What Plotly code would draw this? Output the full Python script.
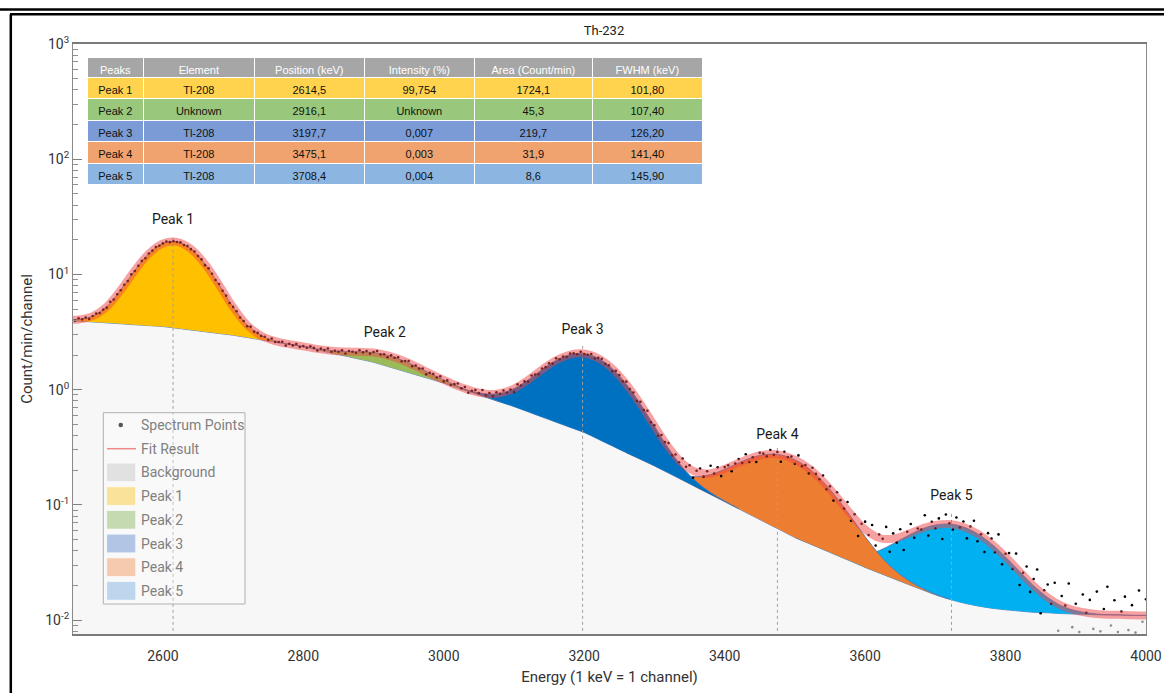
import plotly.graph_objects as go

# ---------------- data ----------------
energy = list(range(2460, 4001, 20))  # keV, model grid
background = [4.018, 3.945, 3.873, 3.802, 3.733, 3.664, 3.597, 3.532, 3.412, 3.296,
              3.184, 3.076, 2.972, 2.838, 2.710, 2.588, 2.472, 2.360, 2.218, 2.084,
              1.959, 1.841, 1.730, 1.592, 1.466, 1.349, 1.242, 1.143, 1.040, 0.946,
              0.861, 0.783, 0.713, 0.643, 0.579, 0.522, 0.471, 0.425, 0.372, 0.325,
              0.284, 0.249, 0.218, 0.189, 0.164, 0.142, 0.123, 0.1067, 0.0925, 0.0802,
              0.0695, 0.0603, 0.0522, 0.0463, 0.0411, 0.0365, 0.0324, 0.0287, 0.0257, 0.0230,
              0.0206, 0.0185, 0.0166, 0.0152, 0.0141, 0.0133, 0.0127, 0.0123, 0.0120, 0.0117,
              0.0116, 0.0114, 0.0113, 0.0112, 0.0111, 0.0111, 0.0110, 0.0110]

peak1_energy = list(range(2460, 2801, 20))
peak1_net = [0.0266, 0.125, 0.474, 1.453, 3.594, 7.17, 11.56, 15.03, 15.77, 13.36,
             9.13, 5.04, 2.24, 0.806, 0.234, 0.0547, 0.0103, 0.0016]
peak2_energy = list(range(2780, 3081, 20))
peak2_net = [0.0046, 0.0155, 0.0430, 0.0984, 0.1858, 0.2896, 0.3721, 0.3946, 0.3452, 0.2491,
             0.1484, 0.0729, 0.0295, 0.0099, 0.0027, 0.0006]
peak3_energy = list(range(3020, 3421, 20))
peak3_net = [0.0067, 0.0216, 0.0603, 0.1468, 0.3106, 0.572, 0.9165, 1.277, 1.549, 1.6345,
             1.500, 1.198, 0.8326, 0.5034, 0.2647, 0.1212, 0.0482, 0.0167, 0.0050, 0.0013, 0.0003]
peak4_energy = list(range(3260, 3721, 20))
peak4_net = [0.00035, 0.00108, 0.00302, 0.00755, 0.01687, 0.03377, 0.0605, 0.0970, 0.1392, 0.1787,
             0.2054, 0.2113, 0.1945, 0.1603, 0.1182, 0.0780, 0.0461, 0.0244, 0.0115, 0.0049,
             0.00185, 0.00063, 0.00019, 0.00005]
peak5_energy = list(range(3500, 4001, 20))
peak5_net = [0.0001, 0.00029, 0.00078, 0.0019, 0.00414, 0.00815, 0.01443, 0.02305, 0.03318, 0.04304,
             0.05031, 0.053, 0.05031, 0.04304, 0.03318, 0.02305, 0.01443, 0.00815, 0.00414, 0.0019,
             0.00078, 0.00029, 0.0001, 0.00003, 0.00001, 0.0]

spectrum_energy = list(range(2470, 4001, 5))
spectrum_counts = (
    [4.074, 3.973, 4.173, 4.079, 4.220, 4.114, 4.365, 4.577, 4.636, 4.950,
     5.151, 5.793, 6.073, 6.740, 7.305, 8.135, 8.788, 10.01, 10.73, 11.90,
     13.11, 13.83, 15.21, 16.09, 17.27, 17.77, 18.60, 19.33, 19.07, 19.41,
     19.16, 18.98, 18.04, 17.63, 16.59, 15.84, 14.47, 13.51, 12.05, 11.30,
     10.15, 8.955, 8.261, 7.217, 6.551, 5.660, 5.229, 4.790, 4.235, 3.941,
     3.557, 3.525, 3.190, 3.110, 2.930, 2.880, 2.696, 2.786, 2.596, 2.596,
     2.610, 2.413, 2.507, 2.424, 2.494, 2.350, 2.390]
    + [2.313, 2.383, 2.306, 2.188, 2.274, 2.211, 2.281, 2.134, 2.181, 2.136,
       2.203, 2.057, 2.169, 2.137, 2.093, 2.200, 2.110, 2.167, 2.056, 2.125,
       2.169, 2.019, 2.028, 1.915, 1.987, 1.895, 1.913, 1.764, 1.776, 1.773,
       1.596, 1.623, 1.524, 1.529, 1.359, 1.399, 1.370, 1.275, 1.306, 1.181]
    + [1.204, 1.099, 1.117, 1.131, 1.027, 1.055, 0.941, 0.978, 0.995, 0.933,
       0.993, 0.896, 0.935, 0.875, 0.950, 0.922, 0.985, 0.940, 1.003, 0.957,
       1.113, 1.089, 1.180, 1.175, 1.330, 1.353, 1.362, 1.527, 1.569, 1.699,
       1.683, 1.877, 1.839, 1.940, 1.922, 2.061, 2.068, 2.030, 2.130, 2.042]
    + [2.008, 2.038, 1.868, 1.889, 1.853, 1.679, 1.626, 1.445, 1.458, 1.340,
       1.182, 1.174, 1.012, 0.946, 0.799, 0.786, 0.667, 0.657, 0.522, 0.491,
       0.399, 0.405, 0.351, 0.344, 0.269, 0.274, 0.235, 0.253, 0.214, 0.221,
       0.172, 0.198, 0.207, 0.176, 0.196, 0.219, 0.187, 0.212, 0.178, 0.213]
    + [0.221, 0.196, 0.229, 0.250, 0.231, 0.275, 0.236, 0.259, 0.236, 0.284,
       0.279, 0.264, 0.300, 0.272, 0.288, 0.237, 0.289, 0.260, 0.263, 0.228,
       0.269, 0.217, 0.222, 0.188, 0.210, 0.186, 0.167, 0.180, 0.137, 0.145,
       0.109, 0.129, 0.110, 0.0929, 0.106, 0.0730, 0.0829, 0.0538, 0.0687, 0.0716]
    + [0.0548, 0.0669, 0.0444, 0.0554, 0.0508, 0.0645, 0.0393, 0.0566, 0.0471, 0.0615,
       0.0406, 0.0586, 0.0683, 0.0519, 0.0625, 0.0611, 0.0815, 0.0543, 0.0714, 0.0628,
       0.0764, 0.0507, 0.0825, 0.0693, 0.0612, 0.0777, 0.0638, 0.0718, 0.0513, 0.0649,
       0.0728, 0.0484, 0.0557, 0.0390, 0.0569, 0.0512, 0.0389, 0.0555, 0.0306, 0.0377]
    + [0.0382, 0.0278, 0.0378, 0.0202, 0.0258, 0.0292, 0.0176, 0.0228, 0.0275, 0.0115,
       0.0182, 0.0204, 0.0139, 0.0211, 0.0081, 0.0162, 0.0134, 0.0208, 0.0087, 0.0139,
       0.0079, 0.0167, 0.0116, 0.0150, 0.0084, 0.0177, 0.0080, 0.0125, 0.0195, 0.0090,
       0.0149, 0.0079, 0.0119, 0.0160, 0.0082, 0.0135, 0.0078, 0.0181, 0.0097, 0.0152]
)

peak_names = ["Peak 1", "Peak 2", "Peak 3", "Peak 4", "Peak 5"]
label_energy = [2614.5, 2916.1, 3197.7, 3475.1, 3723.0]
label_value = [29.2, 3.08, 3.24, 0.404, 0.1175]
marker_line_top = [21.5, None, 2.44, 0.319, 0.087]

table_header = ["Peaks", "Element", "Position (keV)", "Intensity (%)", "Area (Count/min)", "FWHM (keV)"]
table_element = ["Tl-208", "Unknown", "Tl-208", "Tl-208", "Tl-208"]
table_position = ["2614,5", "2916,1", "3197,7", "3475,1", "3708,4"]
table_intensity = ["99,754", "Unknown", "0,007", "0,003", "0,004"]
table_area = ["1724,1", "45,3", "219,7", "31,9", "8,6"]
table_fwhm = ["101,80", "107,40", "126,20", "141,40", "145,90"]

# ---------------- styling ----------------
peak_fill = ["#FFC000", "#9BBB59", "#0070C0", "#ED7D31", "#00B0F0"]
table_row_fill = ["#FFD34E", "#99C77C", "#7A9BD6", "#F0A36E", "#8DB5E2"]
legend_swatch = ["#E1E1E1", "#FAE29B", "#C6DAB2", "#B2C5E5", "#F5CAAE", "#BDD6ED"]
edge_col = "rgba(80,120,180,0.85)"
FONT = "Roboto"

W, H = 1164, 693
ML, MR, MT, MB = 73, 18, 44, 59
PW, PH = W - ML - MR, H - MT - MB


def px_x(px):  # window pixel -> paper
    return (px - ML) / PW


def px_y(py):
    return (H - MB - py) / PH


bg_at = dict(zip(energy, background))
peaks = [(peak1_energy, peak1_net), (peak2_energy, peak2_net), (peak3_energy, peak3_net),
         (peak4_energy, peak4_net), (peak5_energy, peak5_net)]

fit_result = list(background)
for pe, pv in peaks:
    for e, v in zip(pe, pv):
        fit_result[energy.index(e)] += v

fig = go.Figure()

# background area
fig.add_trace(go.Scatter(x=energy, y=[0.001] * len(energy), mode="lines",
                         line=dict(width=0), hoverinfo="skip", showlegend=False))
fig.add_trace(go.Scatter(x=energy, y=background, mode="lines", fill="tonexty",
                         fillcolor="#F7F7F7", line=dict(color=edge_col, width=1, shape="spline"),
                         name="Background", showlegend=False))

# peaks, drawn from peak 5 up to peak 1
for k in [4, 3, 2, 1, 0]:
    pe, pv = peaks[k]
    base = [bg_at[e] for e in pe]
    top = [bg_at[e] + v for e, v in zip(pe, pv)]
    fig.add_trace(go.Scatter(x=pe, y=base, mode="lines", line=dict(width=0, shape="spline"),
                             hoverinfo="skip", showlegend=False))
    fig.add_trace(go.Scatter(x=pe, y=top, mode="lines", fill="tonexty", fillcolor=peak_fill[k],
                             line=dict(color=edge_col, width=1, shape="spline"),
                             name=peak_names[k], showlegend=False))

# dotted peak markers
dx, dy = [], []
for e, t in zip(label_energy, marker_line_top):
    if t is None:
        continue
    dx += [e, e, None]
    dy += [0.005, t, None]
fig.add_trace(go.Scatter(x=dx, y=dy, mode="lines", line=dict(color="#A0A0A0", width=1, dash="dot"),
                         hoverinfo="skip", showlegend=False))

# spectrum points
pt_colors = ["#8E8E8E" if v < 0.0105 else "#000000" for v in spectrum_counts]
fig.add_trace(go.Scatter(x=spectrum_energy, y=spectrum_counts, mode="markers",
                         marker=dict(size=2.6, color=pt_colors), name="Spectrum Points",
                         showlegend=False))

# fit result
fig.add_trace(go.Scatter(x=energy, y=fit_result, mode="lines",
                         line=dict(color="rgba(240,70,70,0.5)", width=8, shape="spline"),
                         name="Fit Result", showlegend=False))

# peak labels
fig.add_trace(go.Scatter(x=label_energy, y=label_value, mode="text", text=peak_names,
                         textposition="middle center",
                         textfont=dict(family=FONT, size=14, color="#1A1A1A"),
                         hoverinfo="skip", showlegend=False))

# table
fig.add_trace(go.Table(
    domain=dict(x=[px_x(87.3), px_x(703.3)], y=[px_y(192), px_y(57.3)]),
    columnwidth=[56, 111, 110, 110, 118, 110],
    header=dict(values=table_header, fill_color="#A6A6A6", align="center", height=20,
                font=dict(family="Arial", size=11, color="white"),
                line=dict(color="white", width=1)),
    cells=dict(values=[peak_names, table_element, table_position, table_intensity, table_area, table_fwhm],
               fill_color=[table_row_fill] * 6, align="center", height=21.5,
               font=dict(family="Arial", size=11, color="#111111"),
               line=dict(color="white", width=1)),
))

# ---------------- manual legend ----------------
shapes = []
annotations = []
shapes.append(dict(type="rect", xref="paper", yref="paper", x0=px_x(103.3), x1=px_x(245),
                   y0=px_y(604), y1=px_y(412.7), line=dict(color="#B0B0B0", width=1),
                   fillcolor="rgba(252,252,252,0.35)", layer="above"))
legend_labels = ["Spectrum Points", "Fit Result", "Background"] + peak_names
for i, lab in enumerate(legend_labels):
    yc = 425 + 23.7 * i
    if i == 0:
        shapes.append(dict(type="circle", xref="paper", yref="paper",
                           x0=px_x(118.5), x1=px_x(123), y0=px_y(yc + 2.2), y1=px_y(yc - 2.2),
                           fillcolor="#555555", line=dict(width=0), layer="above"))
    elif i == 1:
        shapes.append(dict(type="line", xref="paper", yref="paper", x0=px_x(107), x1=px_x(136),
                           y0=px_y(yc), y1=px_y(yc), line=dict(color="#F08A8A", width=1.5),
                           layer="above"))
    else:
        shapes.append(dict(type="rect", xref="paper", yref="paper", x0=px_x(106.7), x1=px_x(135.7),
                           y0=px_y(yc + 9.3), y1=px_y(yc - 9.3), fillcolor=legend_swatch[i - 2],
                           line=dict(color="rgba(255,255,255,0.6)", width=1), layer="above"))
    annotations.append(dict(xref="paper", yref="paper", x=px_x(138.5), y=px_y(yc), text=lab,
                            showarrow=False, xanchor="left", yanchor="middle",
                            font=dict(family=FONT, size=14, color="#808080")))

# window frame lines
shapes.append(dict(type="line", xref="paper", yref="paper", x0=px_x(0), x1=px_x(W),
                   y0=px_y(9.5), y1=px_y(9.5), line=dict(color="black", width=2.5)))
shapes.append(dict(type="line", xref="paper", yref="paper", x0=px_x(10), x1=px_x(W),
                   y0=px_y(14.3), y1=px_y(14.3), line=dict(color="black", width=2.5)))
shapes.append(dict(type="line", xref="paper", yref="paper", x0=px_x(10.8), x1=px_x(10.8),
                   y0=px_y(14.3), y1=px_y(H), line=dict(color="black", width=2.5)))

decades = [-2, -1, 0, 1, 2, 3]
major_vals = [10.0 ** d for d in decades]
major_text = ["10<sup>%d</sup>" % d for d in decades]
minor_vals = [m * 10.0 ** d for d in range(-3, 3) for m in range(2, 10)]

fig.update_layout(
    width=W, height=H,
    margin=dict(l=ML, r=MR, t=MT, b=MB, autoexpand=False),
    paper_bgcolor="white", plot_bgcolor="white",
    title=dict(text="Th-232", x=px_x(604), xref="paper", xanchor="center",
               y=1 - 30 / H, yanchor="middle",
               font=dict(family=FONT, size=13, color="#222222")),
    xaxis=dict(range=[2472, 4000], tickvals=[2600, 2800, 3000, 3200, 3400, 3600, 3800, 4000],
               automargin=False,
               ticks="outside", ticklen=8, tickcolor="rgba(0,0,0,0)",
               tickfont=dict(family=FONT, size=14, color="#333333"),
               showgrid=False, zeroline=False, showline=True, mirror=True,
               linecolor="#7A7A7A", linewidth=1.5,
               title=dict(text="Energy (1 keV = 1 channel)", standoff=9,
                          font=dict(family=FONT, size=15, color="#333333"))),
    yaxis=dict(type="log", range=[-2.12, 3.0], tickmode="array", tickvals=major_vals,
               automargin=False,
               ticktext=major_text, ticks="inside", ticklen=9, tickcolor="#808080",
               tickfont=dict(family=FONT, size=14, color="#333333"),
               minor=dict(tickmode="array", tickvals=minor_vals, ticks="inside", ticklen=5,
                          tickcolor="#909090", showgrid=False),
               showgrid=False, zeroline=False, showline=True, mirror=True,
               linecolor="#8A8A8A", linewidth=1,
               title=dict(text="Count/min/channel", standoff=8,
                          font=dict(family=FONT, size=15, color="#333333"))),
    shapes=shapes,
    annotations=annotations,
    showlegend=False,
)

# remove the browser's default 8px page margin so the figure fills the window exactly
fig.write_html("out.html", config={"displayModeBar": False},
               post_script="document.body.style.margin='0px';")
